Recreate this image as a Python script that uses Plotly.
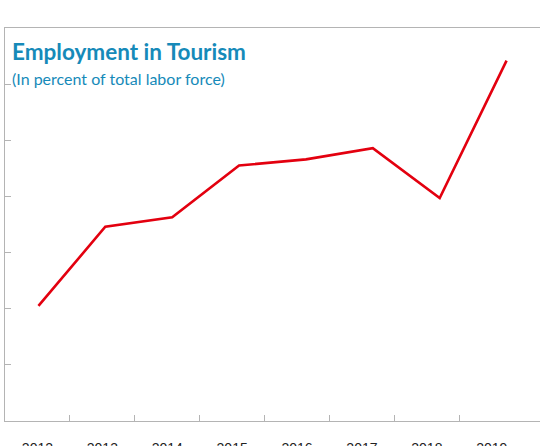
import plotly.graph_objects as go

years = [2012, 2013, 2014, 2015, 2016, 2017, 2018, 2019]
year_labels = ["2012", "2013", "2014", "2015", "2016", "2017", "2018", "2019"]
employment_share = [2.05, 3.46, 3.63, 4.55, 4.66, 4.86, 3.97, 6.42]
y_ticks = [0, 1, 2, 3, 4, 5, 6, 7]

W, H = 540, 446
ml, mr, mt, mb = 5, 0, 28, 25
plot_w = W - ml - mr
plot_h = H - mt - mb

def px_x(p):
    return (p - ml) / plot_w

def px_y(p):
    return (H - mb - p) / plot_h

axis_gray = "#b4b4b4"
title_color = "#168ab9"
label_range = [2011.5, 2011.5 + plot_w / 64.9]

fig = go.Figure()
fig.add_trace(go.Scatter(
    x=years, y=employment_share, mode="lines",
    line=dict(color="#e3000f", width=2.6),
    xaxis="x", yaxis="y", hoverinfo="skip", showlegend=False,
))
# helper traces so the overlaying tick/label axes are rendered
for ax in ("x2", "x3"):
    fig.add_trace(go.Scatter(
        x=years, y=employment_share, mode="lines",
        line=dict(color="rgba(0,0,0,0)", width=0),
        xaxis=ax, yaxis="y", hoverinfo="skip", showlegend=False,
    ))

fig.update_layout(
    template="none",
    width=W, height=H,
    margin=dict(l=ml, r=mr, t=mt, b=mb, pad=0),
    paper_bgcolor="white", plot_bgcolor="white",
    showlegend=False,
    xaxis=dict(
        range=[2011.5, 2019.5], showticklabels=False, ticks="",
        showgrid=False, zeroline=False, automargin=False,
        showline=True, linecolor=axis_gray, linewidth=1, mirror=True,
        fixedrange=True,
    ),
    xaxis2=dict(
        range=label_range, overlaying="x", anchor="y", side="bottom",
        tickmode="array", tickvals=[y + 0.5 for y in years[:-1]],
        ticks="inside", ticklen=6, tickcolor=axis_gray, tickwidth=1,
        showticklabels=False, showline=False, showgrid=False, zeroline=False,
        automargin=False, fixedrange=True,
    ),
    xaxis3=dict(
        range=label_range, overlaying="x", anchor="y", side="bottom",
        tickmode="array", tickvals=years, ticktext=year_labels,
        ticks="outside", ticklen=14, tickcolor="rgba(0,0,0,0)", tickwidth=1,
        tickfont=dict(family="Liberation Sans, Arial, sans-serif", size=14, color="#222222"),
        showline=False, showgrid=False, zeroline=False,
        automargin=False, fixedrange=True,
    ),
    yaxis=dict(
        range=[0, 7], tickmode="array", tickvals=y_ticks, showticklabels=False,
        ticks="inside", ticklen=6, tickcolor=axis_gray, tickwidth=1,
        showgrid=False, zeroline=False, automargin=False,
        showline=True, linecolor=axis_gray, linewidth=1,
        fixedrange=True,
    ),
    annotations=[
        dict(text="<b>Employment in Tourism</b>", xref="paper", yref="paper",
             x=px_x(10), y=px_y(51), xanchor="left", yanchor="middle",
             showarrow=False,
             font=dict(family="Lato, sans-serif", size=22.5, color=title_color)),
        dict(text="(In percent of total labor force)", xref="paper", yref="paper",
             x=px_x(10), y=px_y(78), xanchor="left", yanchor="middle",
             showarrow=False,
             font=dict(family="Lato, sans-serif", size=16, color=title_color)),
    ],
)

fig.write_html(
    "out.html",
    config={"displayModeBar": False, "staticPlot": True},
    post_script="document.body.style.margin='0';document.body.style.overflow='hidden';",
)
